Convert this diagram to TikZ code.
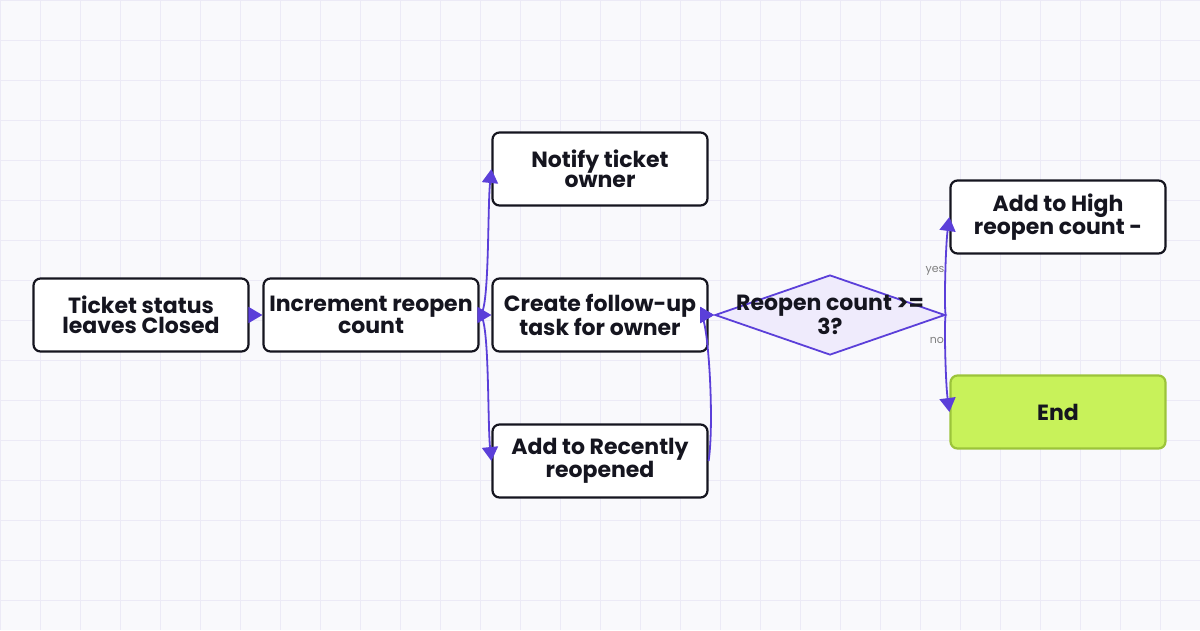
\documentclass[tikz,border=0pt]{standalone}
\usepackage{fontspec}
\setmainfont{Poppins}
\usetikzlibrary{shapes.geometric,arrows.meta}
\definecolor{edge}{HTML}{5B3FD9}
\definecolor{gridc}{HTML}{ECEAF6}
\definecolor{bg}{HTML}{F9F9FC}
\definecolor{txt}{HTML}{15151F}
\definecolor{lime}{HTML}{C8F25A}
\definecolor{limeb}{HTML}{9CC43A}
\definecolor{dia}{HTML}{EFEBFC}
\begin{document}
\begin{tikzpicture}[x=1pt,y=-1pt,
 box/.style={draw=txt,line width=2.2pt,rounded corners=7pt,fill=white,minimum width=215pt,minimum height=73pt,align=center,font=\fontsize{22}{20}\selectfont\bfseries,text=txt,inner sep=1pt},
 arr/.style={draw=edge,line width=1.8pt,-{Triangle[length=14pt,width=16pt]}},
 lab/.style={font=\fontsize{11}{11}\selectfont,text=gray}]
\fill[bg] (0,0) rectangle (1200,630);
\useasboundingbox (0,0) rectangle (1200,630);
\foreach \x in {0,40,...,1200} \draw[gridc,line width=0.8pt] (\x,0)--(\x,630);
\foreach \y in {0,40,...,640} \draw[gridc,line width=0.8pt] (0,\y)--(1200,\y);
\node[box] (s) at (141,315) {Ticket status\\leaves Closed};
\node[box] (i) at (371,315) {Increment reopen\\count};
\node[box] (n) at (600,169) {Notify ticket\\owner};
\node[box] (c) at (600,315) {Create follow-up\\task for owner};
\node[box] (r) at (600,461) {Add to Recently\\reopened};
\node[diamond,draw=edge,line width=1.8pt,fill=dia,minimum width=230pt,minimum height=80pt,inner sep=0pt,aspect=2.9] (d) at (830,315) {};
\node[font=\fontsize{22}{20}\selectfont\bfseries,text=txt,align=center] at (830,315) {Reopen count >=\\3?};
\node[box] (h) at (1058,217) {Add to High\\reopen count -};
\node[box,fill=lime,draw=limeb] (e) at (1058,412) {End};
\draw[arr] (s.east) -- (i.west);
\draw[arr] (i.east) .. controls +(10,0) and +(-4,40) .. (n.west);
\draw[arr] (i.east) -- (c.west);
\draw[arr] (i.east) .. controls +(10,0) and +(-4,-40) .. (r.west);
\draw[arr] (c.east) -- (d.west);
\draw[arr] (r.east) .. controls +(6,-40) and +(-6,0) .. (d.west);
\draw[arr] (d.east) .. controls +(-2,0) and +(-4,30) .. node[lab,pos=0.55,left=-3pt] {yes} (h.west);
\draw[arr] (d.east) .. controls +(-2,0) and +(-4,-30) .. node[lab,pos=0.4,left=-3pt] {no} (e.west);
\end{tikzpicture}
\end{document}
